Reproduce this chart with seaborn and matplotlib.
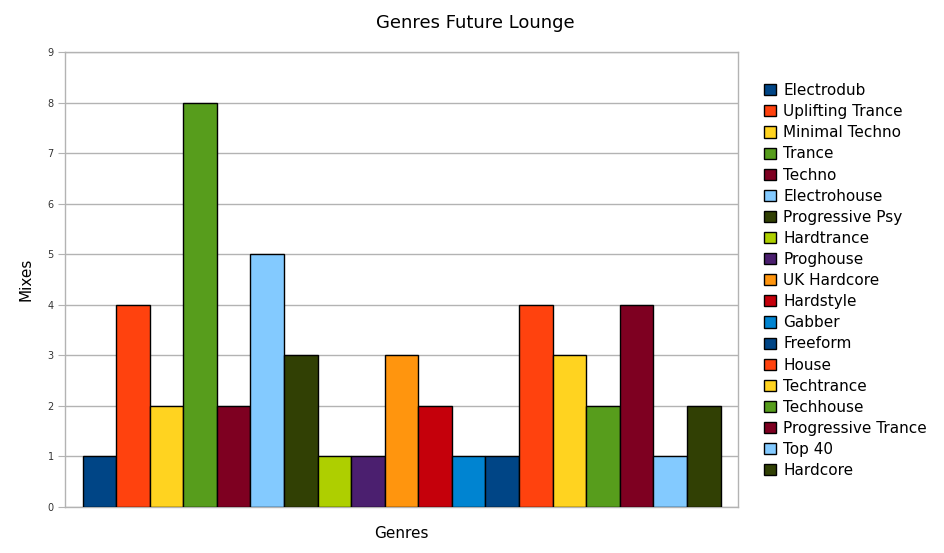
import matplotlib
matplotlib.use('Agg')
import matplotlib.pyplot as plt
import seaborn as sns
import pandas as pd

genres = ['Electrodub', 'Uplifting Trance', 'Minimal Techno', 'Trance', 'Techno',
          'Electrohouse', 'Progressive Psy', 'Hardtrance', 'Proghouse', 'UK Hardcore',
          'Hardstyle', 'Gabber', 'Freeform', 'House', 'Techtrance', 'Techhouse',
          'Progressive Trance', 'Top 40', 'Hardcore']
mixes = [1, 4, 2, 8, 2, 5, 3, 1, 1, 3, 2, 1, 1, 4, 3, 2, 4, 1, 2]
colors = ['#004586', '#ff420e', '#ffd320', '#579d1c', '#7e0021', '#83caff',
          '#314004', '#aecf00', '#4b1f6f', '#ff950e', '#c5000b', '#0084d1',
          '#004586', '#ff420e', '#ffd320', '#579d1c', '#7e0021', '#83caff',
          '#314004']

df = pd.DataFrame({'category': 'Genres', 'genre': genres, 'mixes': mixes})

sns.set_style('white')
plt.rcParams['font.family'] = ['DejaVu Sans']
plt.rcParams['text.color'] = 'black'
plt.rcParams['axes.labelcolor'] = 'black'

fig = plt.figure(figsize=(9.44, 5.53), dpi=100)
ax = fig.add_axes([0.0689, 0.0832, 0.7129, 0.8228])

sns.barplot(data=df, x='category', y='mixes', hue='genre', palette=colors,
            hue_order=genres, width=0.948, edgecolor='black', linewidth=1,
            saturation=1, ax=ax, zorder=3)

ax.set_ylim(0, 9)
ax.set_xlim(-0.5, 0.5)
ax.set_yticks(range(10))
ax.tick_params(axis='y', labelsize=7, length=5, color='#b3b3b3', labelcolor='#333333',
               pad=3, left=True)
ax.tick_params(axis='x', labelbottom=False, bottom=False)
ax.yaxis.grid(True, color='#b3b3b3', linewidth=1, zorder=0)
for sp in ax.spines.values():
    sp.set_color('#b3b3b3')
    sp.set_linewidth(1)

ax.set_xlabel('Genres', fontsize=11, labelpad=14)
ax.set_ylabel('Mixes', fontsize=11, labelpad=10)
fig.text(0.504, 0.958, 'Genres Future Lounge', fontsize=13, ha='center', va='center')

ax.legend(loc='upper left', bbox_to_anchor=(1.03, 0.945), frameon=False,
          fontsize=11, handlelength=0.75, handleheight=0.75, handletextpad=0.5,
          labelspacing=0.4, borderaxespad=0)

fig.savefig('out.png', dpi=100)
